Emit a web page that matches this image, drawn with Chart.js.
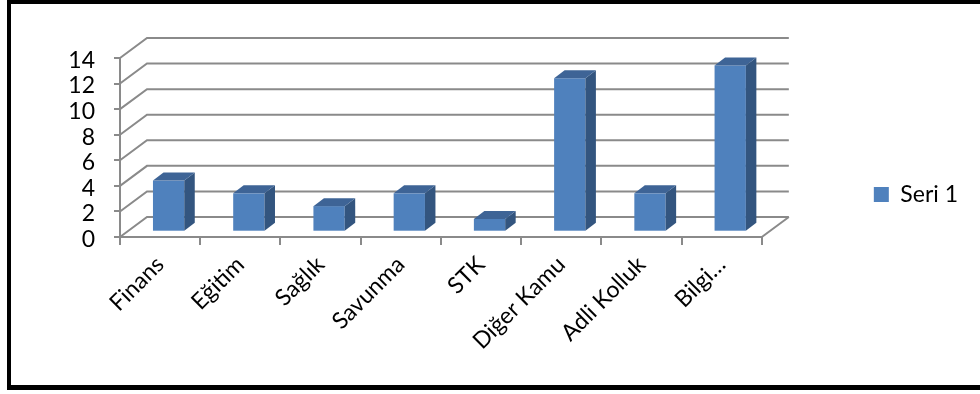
<!DOCTYPE html>
<html>
<head>
<meta charset="utf-8">
<script src="https://cdn.jsdelivr.net/npm/chart.js@4.4.1/dist/chart.umd.min.js"></script>
<style>
  html, body { margin: 0; padding: 0; background: #fff; }
  #wrap { position: relative; width: 980px; height: 394px; overflow: hidden; }
  #frame { position: absolute; left: 7px; top: 0; width: 1200px; height: 390px; box-sizing: border-box;
           border-top: 4px solid #000; border-left: 4px solid #000; border-bottom: 5px solid #000; }
  #c { position: absolute; left: 0; top: 0; }
</style>
</head>
<body>
<div id="wrap">
  <div id="frame"></div>
  <canvas id="c" width="980" height="394"></canvas>
</div>
<script>
// ---- data ----
const categories = ['Finans', 'Eğitim', 'Sağlık', 'Savunma', 'STK', 'Diğer Kamu', 'Adli Kolluk', 'Bilgi…'];
const seriesName = 'Seri 1';
const seriesValues = [4, 3, 2, 3, 1, 12, 3, 13];
const yMin = 0;
const yMax = 14;
const yStep = 2;

// ---- styles ----
const FONT = 'Lato';
const FONT_SIZE = 23;
const GRID = '#8a8a8a';
const FRONT = '#4F81BD';
const TOP = '#3E6496';
const SIDE = '#33557F';
const WALL = { dx: 27, dy: 20 };      // depth of the 3D wall/floor
const BAR = { fx: 8.5, fy: 5.3, dx: 10.5, dy: 8 }; // bar position in depth & bar depth

const threeD = {
  id: 'threeD',
  beforeDatasetsDraw(chart) {
    const { ctx, chartArea: { left, right, bottom }, scales: { y } } = chart;
    ctx.save();
    ctx.strokeStyle = GRID;
    ctx.lineWidth = 2;
    ctx.lineJoin = 'miter';
    y.ticks.forEach(t => {
      const py = y.getPixelForValue(t.value);
      ctx.beginPath();
      ctx.moveTo(left, py);
      ctx.lineTo(left + WALL.dx, py - WALL.dy);
      ctx.lineTo(right + WALL.dx, py - WALL.dy);
      ctx.stroke();
    });
    ctx.beginPath();
    ctx.moveTo(right, bottom);
    ctx.lineTo(right + WALL.dx, bottom - WALL.dy);
    ctx.stroke();
    ctx.restore();
  },
  beforeDatasetDraw(chart, args) {
    const { ctx } = chart;
    ctx.save();
    args.meta.data.forEach(el => {
      const { x, y, base, width } = el.getProps(['x', 'y', 'base', 'width'], true);
      const l = x - width / 2 + BAR.fx, r = l + width;
      const t = y - BAR.fy, b = base - BAR.fy;
      ctx.fillStyle = FRONT;
      ctx.fillRect(l, t, width, b - t);
      ctx.fillStyle = SIDE;
      ctx.beginPath();
      ctx.moveTo(r, t); ctx.lineTo(r + BAR.dx, t - BAR.dy);
      ctx.lineTo(r + BAR.dx, b - BAR.dy); ctx.lineTo(r, b);
      ctx.closePath(); ctx.fill();
      ctx.fillStyle = TOP;
      ctx.beginPath();
      ctx.moveTo(l, t); ctx.lineTo(l + BAR.dx, t - BAR.dy);
      ctx.lineTo(r + BAR.dx, t - BAR.dy); ctx.lineTo(r, t);
      ctx.closePath(); ctx.fill();
    });
    ctx.restore();
    return false;
  }
};

new Chart(document.getElementById('c'), {
  type: 'bar',
  data: {
    labels: categories,
    datasets: [{
      label: seriesName,
      data: seriesValues,
      backgroundColor: FRONT,
      borderWidth: 0,
      categoryPercentage: 1,
      barPercentage: 0.39
    }]
  },
  options: {
    responsive: false,
    animation: false,
    events: [],
    layout: { padding: { top: 0, bottom: 5, left: 0, right: 12 } },
    plugins: {
      tooltip: { enabled: false },
      legend: {
        position: 'right',
        align: 'center',
        labels: {
          boxWidth: 15, boxHeight: 15, padding: 112, color: '#000',
          font: { family: FONT, size: FONT_SIZE }
        }
      }
    },
    scales: {
      xTop: {
        type: 'category', position: 'top', display: true,
        grid: { display: false }, border: { display: false }, ticks: { display: false },
        afterFit(s) { s.height = 58; }
      },
      x: {
        offset: true,
        grid: { display: true, offset: true, drawOnChartArea: false, drawTicks: true, tickLength: 8, color: GRID, lineWidth: 2 },
        border: { display: true, color: GRID, width: 2 },
        ticks: { autoSkip: false, minRotation: 45, maxRotation: 45, padding: 6, color: '#000', font: { family: FONT, size: FONT_SIZE } },
        afterFit(s) { s.height = 152; }
      },
      y: {
        min: yMin, max: yMax,
        grid: { display: true, drawOnChartArea: false, drawTicks: true, tickLength: 6, color: GRID, lineWidth: 2 },
        border: { display: true, color: GRID, width: 2 },
        ticks: { autoSkip: false, stepSize: yStep, padding: 19, labelOffset: 2.5, color: '#000', font: { family: FONT, size: FONT_SIZE } },
        afterFit(s) { s.width = 120; }
      }
    }
  },
  plugins: [threeD]
});
</script>
</body>
</html>
